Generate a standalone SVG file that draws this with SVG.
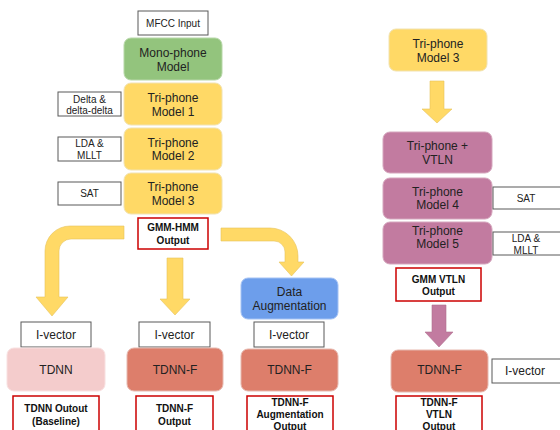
<svg xmlns="http://www.w3.org/2000/svg" width="560" height="430" viewBox="0 0 560 430">
<style>
text{font-family:"Liberation Sans",Arial,sans-serif;fill:#222;text-anchor:middle;dominant-baseline:central}
.n{font-size:12px}
.s{font-size:10px}
.b{font-size:10px;font-weight:bold;fill:#111}
.lab{fill:#fff;stroke:#595959;stroke-width:1}
.out{fill:#fff;stroke:#cc0000;stroke-width:1.5}
.g{fill:#93c47d;stroke:#b7d7a8;stroke-width:1}
.y{fill:#ffd966;stroke:#f1e2b0;stroke-width:1}
.p{fill:#c27ba0;stroke:#d5a6bd;stroke-width:1}
.bl{fill:#6d9eeb;stroke:#a4c2f4;stroke-width:1}
.r{fill:#dd7e6b;stroke:#e6b8af;stroke-width:1}
.pk{fill:#f4cccc;stroke:#f8e0e0;stroke-width:1}
.ay{fill:#ffd966;stroke:#e6c35c;stroke-width:0.6}
.ap{fill:#c27ba0;stroke:#b0708f;stroke-width:0.6}
</style>
<rect width="560" height="430" fill="#fff"/>
<g id="connectors">
<path class="ay" d="M124,226 L70,226 A25,25 0 0 0 45,251 L45,297 L36,297 L52,316 L68,297 L59,297 L59,251 A12,12 0 0 1 71,239 L124,239 Z"/>
<path class="ay" d="M167,258 L183,258 L183,299 L190,299 L175,315 L160,299 L167,299 Z"/>
<path class="ay" d="M221,228 L270,228 A28,28 0 0 1 298,256 L298,262 L304,262 L291.5,276 L279,262 L285,262 L285,252 A11,11 0 0 0 274,241 L221,241 Z"/>
<path class="ay" d="M430,81 L444,81 L444,109 L452,109 L437,123 L422,109 L430,109 Z"/>
<path class="ap" d="M432,305 L446,305 L446,332 L453,332 L439,347 L425,332 L432,332 Z"/>
</g>
<g id="mfcc"><rect class="lab" x="138" y="11" width="70" height="24"/><text class="s" x="173" y="23">MFCC Input</text></g>
<g id="mono"><rect class="g" x="124" y="38" width="98" height="42" rx="7"/><text class="n" x="173" y="53">Mono-phone</text><text class="n" x="173" y="67">Model</text></g>
<g id="tri1"><rect class="y" x="124" y="83" width="98" height="42" rx="7"/><text class="n" x="173" y="98">Tri-phone</text><text class="n" x="173" y="112">Model 1</text></g>
<g id="tri2"><rect class="y" x="124" y="128" width="98" height="42" rx="7"/><text class="n" x="173" y="143">Tri-phone</text><text class="n" x="173" y="156">Model 2</text></g>
<g id="tri3"><rect class="y" x="124" y="173" width="98" height="41" rx="7"/><text class="n" x="173" y="187">Tri-phone</text><text class="n" x="173" y="201">Model 3</text></g>
<g id="delta"><rect class="lab" x="58" y="92" width="63" height="24"/><text class="s" x="89.5" y="99">Delta &amp;</text><text class="s" x="89.5" y="110">delta-delta</text></g>
<g id="lda"><rect class="lab" x="58" y="137" width="63" height="24"/><text class="s" x="89.5" y="143">LDA &amp;</text><text class="s" x="89.5" y="155">MLLT</text></g>
<g id="sat"><rect class="lab" x="58" y="182" width="63" height="23"/><text class="s" x="89.5" y="193.5">SAT</text></g>
<g id="gmmhmm"><rect class="out" x="138" y="218" width="70" height="31"/><text class="b" x="173" y="227">GMM-HMM</text><text class="b" x="173" y="240">Output</text></g>
<g id="ivec1"><rect class="lab" x="21" y="322" width="70" height="25"/><text class="n" x="56" y="335">I-vector</text></g>
<g id="tdnn"><rect class="pk" x="7" y="348" width="98" height="43" rx="7"/><text class="n" x="56" y="370">TDNN</text></g>
<g id="tdnnout"><rect class="out" x="13" y="396" width="86" height="40"/><text class="b" x="56" y="408">TDNN Outout</text><text class="b" x="56" y="421">(Baseline)</text></g>
<g id="ivec2"><rect class="lab" x="139" y="322" width="71" height="25"/><text class="n" x="174.5" y="335">I-vector</text></g>
<g id="tdnnf2"><rect class="r" x="127" y="348" width="96" height="43" rx="7"/><text class="n" x="175" y="370">TDNN-F</text></g>
<g id="tdnnfout"><rect class="out" x="136" y="396" width="77" height="40"/><text class="b" x="174.5" y="408">TDNN-F</text><text class="b" x="174.5" y="421">Output</text></g>
<g id="dataaug"><rect class="bl" x="241" y="278" width="97" height="41" rx="7"/><text class="n" x="289.5" y="292">Data</text><text class="n" x="289.5" y="306">Augmentation</text></g>
<g id="ivec3"><rect class="lab" x="254" y="322" width="70" height="25"/><text class="n" x="289" y="335">I-vector</text></g>
<g id="tdnnf3"><rect class="r" x="241" y="349" width="97" height="42" rx="7"/><text class="n" x="289.5" y="370">TDNN-F</text></g>
<g id="tdnnfaug"><rect class="out" x="247" y="396" width="86" height="40"/><text class="b" x="290" y="402">TDNN-F</text><text class="b" x="290" y="414">Augmentation</text><text class="b" x="290" y="426">Output</text></g>
<g id="tri3r"><rect class="y" x="389" y="29" width="98" height="42" rx="7"/><text class="n" x="438" y="44">Tri-phone</text><text class="n" x="438" y="58">Model 3</text></g>
<g id="vtln"><rect class="p" x="383" y="132" width="109" height="41" rx="7"/><text class="n" x="437.5" y="146">Tri-phone +</text><text class="n" x="437.5" y="160">VTLN</text></g>
<g id="tri4"><rect class="p" x="383" y="178" width="109" height="41" rx="7"/><text class="n" x="437.5" y="192">Tri-phone</text><text class="n" x="437.5" y="205">Model 4</text></g>
<g id="satr"><rect class="lab" x="493" y="187" width="70" height="22"/><text class="s" x="526" y="198">SAT</text></g>
<g id="tri5"><rect class="p" x="383" y="222" width="109" height="42" rx="7"/><text class="n" x="437.5" y="231">Tri-phone</text><text class="n" x="437.5" y="244">Model 5</text></g>
<g id="ldar"><rect class="lab" x="493" y="232" width="70" height="23"/><text class="s" x="526" y="238">LDA &amp;</text><text class="s" x="526" y="250">MLLT</text></g>
<g id="gmmvtln"><rect class="out" x="396" y="268" width="85" height="33"/><text class="b" x="438.5" y="279">GMM VTLN</text><text class="b" x="438.5" y="291">Output</text></g>
<g id="tdnnfr"><rect class="r" x="391" y="350" width="97" height="42" rx="7"/><text class="n" x="439.5" y="370">TDNN-F</text></g>
<g id="ivecr"><rect class="lab" x="492" y="359" width="70" height="24"/><text class="n" x="525" y="371">I-vector</text></g>
<g id="tdnnfvtln"><rect class="out" x="396" y="396" width="86" height="40"/><text class="b" x="439" y="402">TDNN-F</text><text class="b" x="439" y="414">VTLN</text><text class="b" x="439" y="426">Output</text></g>
</svg>
